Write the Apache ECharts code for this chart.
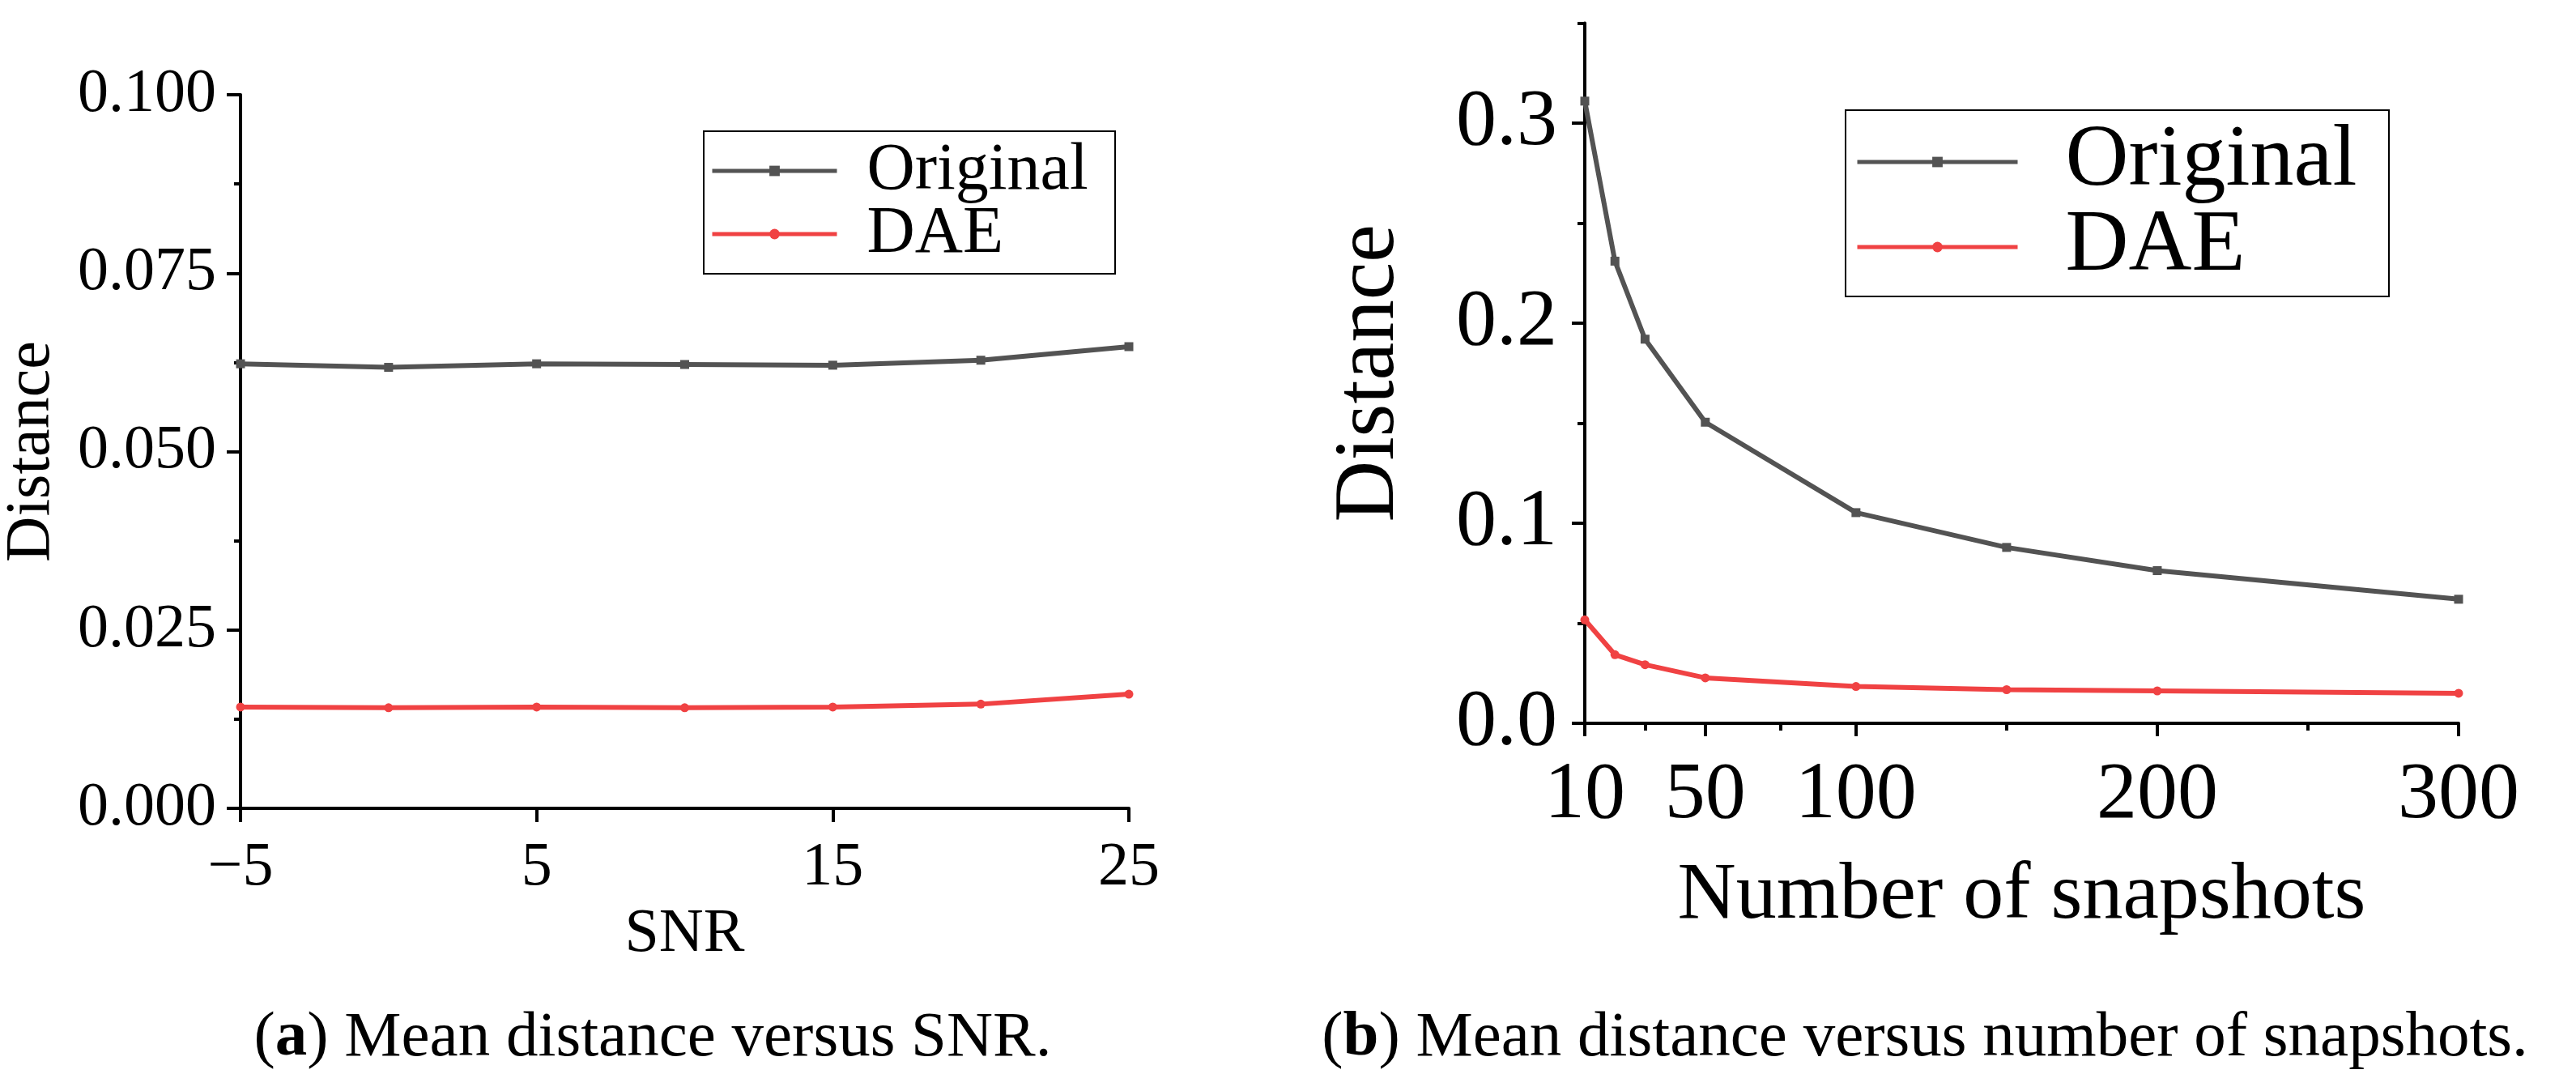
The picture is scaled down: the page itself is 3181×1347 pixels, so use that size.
<!DOCTYPE html>
<html>
<head>
<meta charset="utf-8">
<script src="https://cdn.jsdelivr.net/npm/echarts@6/dist/echarts.min.js"></script>
<style>
  html, body { margin: 0; padding: 0; background: #fff; }
  #main { width: 3181px; height: 1347px; }
</style>
</head>
<body>
<div id="main"></div>
<script>
// (a) distance vs SNR
var snrList = [-5, 0, 5, 10, 15, 20, 25]
var snrOriginal = [0.0623, 0.0618, 0.0623, 0.0622, 0.0621, 0.0628, 0.0647]
var snrDAE = [0.0142, 0.0141, 0.0142, 0.0141, 0.0142, 0.0146, 0.0160]
var snrTicks = [-5, 5, 15, 25]

// (b) distance vs number of snapshots
var snapList = [10, 20, 30, 50, 100, 150, 200, 300]
var snapOriginal = [0.311, 0.231, 0.192, 0.1505, 0.1053, 0.0879, 0.0763, 0.0620]
var snapDAE = [0.0517, 0.0343, 0.0293, 0.0227, 0.0184, 0.0168, 0.0162, 0.0150]
var snapTicks = [10, 50, 100, 200, 300]
var snapMinorTicks = [30, 75, 150, 250]
var distTicks = [0, 0.1, 0.2, 0.3]
var distMinorTicks = [0.05, 0.15, 0.25, 0.35]

var FONT = 'Liberation Serif'
var GRAY = '#535353'
var RED = '#f04243'

function pairs(xs, ys) {
    return xs.map(function (x, i) { return [x, ys[i]] })
}

// one legend per row, so each row sits where the reference puts it
function legendRow(name, left, top, w, size, gap) {
    return {
        left: left, top: top, orient: 'vertical', padding: 0,
        itemWidth: w, itemHeight: 16,
        data: [name],
        lineStyle: { width: 5 },
        textStyle: { fontFamily: FONT, fontSize: size, color: '#000', padding: [0, 0, 0, gap] }
    }
}

var chart = echarts.init(document.getElementById('main'))

var axisLine = { show: true, onZero: false, lineStyle: { color: '#000', width: 4 } }

var option = {
    backgroundColor: '#fff',
    animation: false,
    grid: [
        { left: 290, top: 117, width: 1104, height: 881 },
        { left: 1957, top: 28.5, width: 1079, height: 864.5 }
    ],
    xAxis: [
        {
            gridIndex: 0, type: 'value', min: -5, max: 25,
            name: 'SNR', nameLocation: 'middle', nameGap: 118,
            nameTextStyle: { fontFamily: FONT, fontSize: 76, color: '#000' },
            axisLine: axisLine,
            axisTick: { show: true, customValues: snrTicks, length: 17, lineStyle: { width: 4, color: '#000' } },
            axisLabel: {
                customValues: snrTicks, margin: 36, fontFamily: FONT, fontSize: 76, color: '#000',
                formatter: function (v) { return String(v).replace('-', '\u2212') }
            },
            splitLine: { show: false }
        },
        {
            gridIndex: 1, type: 'value', min: 10, max: 300,
            name: 'Number of snapshots', nameLocation: 'middle', nameGap: 164,
            nameTextStyle: { fontFamily: FONT, fontSize: 100, color: '#000' },
            axisLine: axisLine,
            axisTick: { show: true, customValues: snapTicks, length: 16, lineStyle: { width: 4, color: '#000' } },
            axisLabel: { customValues: snapTicks, margin: 40, fontFamily: FONT, fontSize: 100, color: '#000' },
            splitLine: { show: false }
        },
        {
            gridIndex: 1, type: 'value', min: 10, max: 300, position: 'bottom', offset: 0,
            axisLine: { show: false, onZero: false },
            axisTick: { show: true, customValues: snapMinorTicks, length: 9, lineStyle: { width: 4, color: '#000' } },
            axisLabel: { show: false },
            splitLine: { show: false }
        }
    ],
    yAxis: [
        {
            gridIndex: 0, type: 'value', min: 0, max: 0.1, interval: 0.025,
            name: 'Distance', nameLocation: 'middle', nameRotate: 90, nameGap: 218,
            nameTextStyle: { fontFamily: FONT, fontSize: 78, color: '#000' },
            axisLine: axisLine,
            axisTick: { show: true, length: 17, lineStyle: { width: 4, color: '#000' } },
            minorTick: { show: true, splitNumber: 2, length: 8, lineStyle: { width: 4, color: '#000' } },
            axisLabel: {
                margin: 30, fontFamily: FONT, fontSize: 76, color: '#000',
                formatter: function (v) { return v.toFixed(3) }
            },
            splitLine: { show: false }
        },
        {
            gridIndex: 1, type: 'value', min: 0, max: 0.35,
            name: 'Distance', nameLocation: 'middle', nameRotate: 90, nameGap: 212,
            nameTextStyle: { fontFamily: FONT, fontSize: 105, color: '#000' },
            axisLine: axisLine,
            axisTick: { show: true, customValues: distTicks, length: 16, lineStyle: { width: 4, color: '#000' } },
            axisLabel: {
                customValues: distTicks, margin: 34, fontFamily: FONT, fontSize: 100, color: '#000',
                formatter: function (v) { return v.toFixed(1) }
            },
            splitLine: { show: false }
        },
        {
            gridIndex: 1, type: 'value', min: 0, max: 0.35, position: 'left', offset: 0,
            axisLine: { show: false, onZero: false },
            axisTick: { show: true, customValues: distMinorTicks, length: 9, lineStyle: { width: 4, color: '#000' } },
            axisLabel: { show: false },
            splitLine: { show: false }
        }
    ],
    legend: [
        legendRow('Original', 877, 170, 154, 82, 32),
        legendRow('DAE', 877, 248, 154, 82, 32),
        legendRow('Original', 2291, 146, 198, 108, 54),
        legendRow('DAE', 2291, 251, 198, 108, 54)
    ],
    graphic: [
        { type: 'rect', shape: { x: 869, y: 162, width: 508, height: 176 }, style: { fill: null, stroke: '#000', lineWidth: 2 } },
        { type: 'rect', shape: { x: 2279, y: 136, width: 671, height: 230 }, style: { fill: null, stroke: '#000', lineWidth: 2 } },
        {
            type: 'text', x: 806, y: 1282,
            style: {
                text: '({b|a}) Mean distance versus SNR.', align: 'center', verticalAlign: 'middle',
                fontFamily: FONT, fontSize: 79, fill: '#000',
                rich: { b: { fontFamily: FONT, fontSize: 79, fontWeight: 'bold' } }
            }
        },
        {
            type: 'text', x: 2377, y: 1282,
            style: {
                text: '({b|b}) Mean distance versus number of snapshots.', align: 'center', verticalAlign: 'middle',
                fontFamily: FONT, fontSize: 79, fill: '#000',
                rich: { b: { fontFamily: FONT, fontSize: 79, fontWeight: 'bold' } }
            }
        }
    ],
    series: [
        {
            name: 'Original', type: 'line', xAxisIndex: 0, yAxisIndex: 0,
            data: pairs(snrList, snrOriginal),
            symbol: 'rect', symbolSize: 11,
            itemStyle: { color: GRAY }, lineStyle: { color: GRAY, width: 6 }
        },
        {
            name: 'DAE', type: 'line', xAxisIndex: 0, yAxisIndex: 0,
            data: pairs(snrList, snrDAE),
            symbol: 'circle', symbolSize: 11,
            itemStyle: { color: RED }, lineStyle: { color: RED, width: 6 }
        },
        {
            name: 'Original', type: 'line', xAxisIndex: 1, yAxisIndex: 1,
            data: pairs(snapList, snapOriginal),
            symbol: 'rect', symbolSize: 11,
            itemStyle: { color: GRAY }, lineStyle: { color: GRAY, width: 6 }
        },
        {
            name: 'DAE', type: 'line', xAxisIndex: 1, yAxisIndex: 1,
            data: pairs(snapList, snapDAE),
            symbol: 'circle', symbolSize: 11,
            itemStyle: { color: RED }, lineStyle: { color: RED, width: 6 }
        }
    ]
}

chart.setOption(option)
</script>
</body>
</html>
